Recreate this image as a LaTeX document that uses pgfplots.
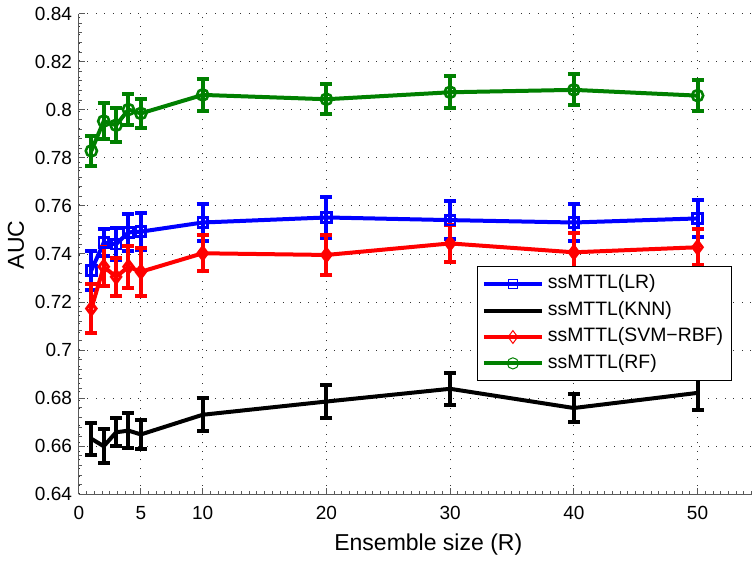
\documentclass[border=0pt]{standalone}
\usepackage{pgfplots}
\pgfplotsset{compat=1.18}
\usepackage{pgfplotstable}
\usepackage{fontspec}
\setmainfont{Liberation Sans}
\definecolor{mgreen}{rgb}{0,0.5,0}
\definecolor{mblue}{rgb}{0,0,1}
\definecolor{mred}{rgb}{1,0,0}

\pgfplotstableread{
x y e
1 0.7332 0.0082
2 0.7447 0.0057
3 0.7441 0.0066
4 0.7490 0.0078
5 0.7493 0.0078
10 0.7531 0.0076
20 0.7552 0.0085
30 0.7541 0.0078
40 0.7531 0.0077
50 0.7548 0.0076
}\lr
\pgfplotstableread{
x y e
1 0.6631 0.0066
2 0.6600 0.0070
3 0.6658 0.0058
4 0.6665 0.0073
5 0.6649 0.0060
10 0.6731 0.0068
20 0.6786 0.0069
30 0.6839 0.0067
40 0.6759 0.0059
50 0.6822 0.0073
}\knn
\pgfplotstableread{
x y e
1 0.7173 0.0102
2 0.7347 0.0082
3 0.7305 0.0080
4 0.7347 0.0087
5 0.7326 0.0099
10 0.7403 0.0074
20 0.7396 0.0085
30 0.7444 0.0077
40 0.7407 0.0080
50 0.7428 0.0075
}\svm
\pgfplotstableread{
x y e
1 0.7829 0.0064
2 0.7953 0.0076
3 0.7936 0.0072
4 0.8001 0.0063
5 0.7985 0.0061
10 0.8062 0.0065
20 0.8044 0.0063
30 0.8073 0.0066
40 0.8083 0.0064
50 0.8059 0.0066
}\rf

\pgfplotsset{
  myerr/.style={
    error bars/y dir=both,
    error bars/y explicit,
    error bars/error bar style={line width=2pt},
    error bars/error mark options={rotate=90, mark size=3pt, line width=2pt},
  },
}

\begin{document}
\begin{tikzpicture}
\begin{axis}[
  name=ax,
  scale only axis,
  width=336.5pt, height=240.3pt,
  xmin=0, xmax=54.4,
  ymin=0.64, ymax=0.84,
  axis x line*=bottom,
  axis y line*=left,
  axis line style={black!65, line width=0.5pt},
  tick align=inside,
  major tick length=3pt,
  minor tick length=1.6pt,
  tick style={black!65, line width=0.5pt},
  xtick={0,5,10,20,30,40,50},
  minor xtick={0,0.625,...,54.4},
  ytick={0.64,0.66,...,0.845},
  minor y tick num=4,
  grid=major,
  major grid style={black!80, line width=0.45pt, dash pattern=on 0.45pt off 3.8pt},
  /pgf/number format/assume math mode=true,
  yticklabel style={/pgf/number format/.cd, fixed, precision=2},
  ticklabel style={font=\fontsize{9.5}{11}\selectfont},
  xticklabel style={yshift=-2.5pt},
  xlabel={Ensemble size (R)},
  ylabel={AUC},
  label style={font=\fontsize{11.5}{13}\selectfont},
  xlabel style={at={(axis description cs:0.519,0)}, anchor=center, yshift=-25.3pt},
  ylabel style={at={(axis description cs:0,0.519)}, anchor=center, yshift=31.5pt},
  legend style={
    at={(axis description cs:0.592,0.474)}, anchor=north west,
    draw=black, line width=0.5pt, fill=white, inner sep=2pt,
    font=\fontsize{9.7}{13}\selectfont,
    nodes={inner sep=2pt, text height=7pt, text depth=2.2pt},
    legend cell align=left,
  },
  legend image code/.code={
    \draw[mark repeat=2, mark phase=2, #1, mark options={solid, line width=0.5pt}]
      plot coordinates {(0pt,0pt) (14.5pt,0pt) (29pt,0pt)};
  },
]
\addplot[color=mblue, line width=2pt, mark=square, mark size=2.4pt, mark options={solid, line width=1.4pt}, myerr]
  table[x=x, y=y, y error=e] {\lr};
\addlegendentry{ssMTTL(LR)}
\addplot[color=black, line width=2pt, mark=none, myerr]
  table[x=x, y=y, y error=e] {\knn};
\addlegendentry{ssMTTL(KNN)}
\addplot[color=mred, line width=2pt, mark=diamond, mark size=3.2pt, mark options={solid, line width=1.4pt}, myerr]
  table[x=x, y=y, y error=e] {\svm};
\addlegendentry{ssMTTL(SVM−RBF)\hspace{10pt}}
\addplot[color=mgreen, line width=2pt, mark=o, mark size=2.8pt, mark options={solid, line width=1.3pt}, myerr]
  table[x=x, y=y, y error=e] {\rf};
\addlegendentry{ssMTTL(RF)}
\end{axis}
\pgfresetboundingbox
\useasboundingbox ([xshift=-39.5pt, yshift=-33.35pt]ax.south west) rectangle ([xshift=336.5pt, yshift=247.15pt]ax.south west);
\end{tikzpicture}
\end{document}
